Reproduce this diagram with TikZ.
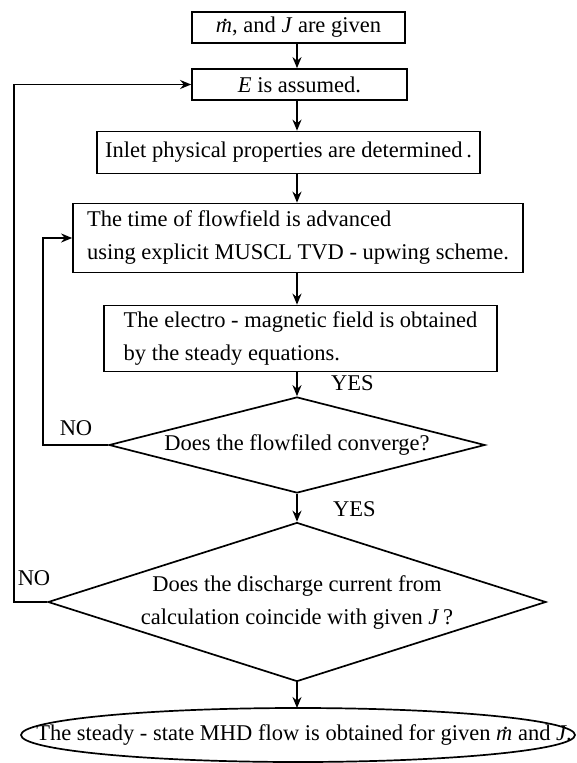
\documentclass[tikz,border=0pt]{standalone}
\usepackage{fontspec}
\setmainfont{Liberation Serif}
\usetikzlibrary{shapes.geometric,arrows.meta}
\newcommand{\mdotx}{{\ooalign{\textit{m}\cr\hidewidth\kern0.12em\raisebox{0.5em}{.}\hidewidth\cr}}}
\tikzset{
  box/.style={draw, line width=1.7pt, inner sep=0pt, align=center},
  dia/.style={draw, diamond, line width=1.7pt, inner sep=0pt, align=center},
  arr/.style={line width=1.7pt, -{Stealth[length=11pt,width=9pt]}},
  plain/.style={line width=1.7pt},
  lbl/.style={inner sep=0pt}
}
\begin{document}
\begin{tikzpicture}[x=1pt,y=-1pt,font=\fontsize{22.5}{33}\selectfont]
\useasboundingbox (0,0) rectangle (576,763);
\coordinate (ax) at (297,0);
\coordinate (lo) at (14,0);
\coordinate (li) at (43,0);

\node[box, minimum width=213pt, minimum height=31pt] (b1) at (298.5,27.5) {\mdotx, and \textit{J} are given};
\node[box, minimum width=215pt, minimum height=31pt] (b2) at (299.5,84.5) {\textit{E} is assumed.};
\node[box, minimum width=383pt, minimum height=42pt] (b3) at (288.5,152.5) {Inlet physical properties are determined\,.};
\node[box, align=left, minimum width=450pt, minimum height=69pt] (b4) at (298,238) {The time of flowfield is advanced\\using explicit MUSCL TVD - upwing scheme.};
\node[box, align=left, minimum width=393pt, minimum height=66pt] (b5) at (300.5,338.5) {The electro - magnetic field is obtained\\by the steady equations.};
\node[dia, aspect=3.9, minimum width=376pt, minimum height=96pt] (d1) at (297,445) {Does the flowfiled converge?};
\node[dia, aspect=3.13, minimum width=498pt, minimum height=159pt] (d2) at (297,602) {Does the discharge current from\\calculation coincide with given \textit{J}\,?};
\coordinate (ellc) at (298,735);
\coordinate (elltop) at (298,708);
\node[lbl] (ell) at (304,735) {The steady - state MHD flow is obtained for given \mdotx{} and \textit{J}.};
\draw[plain] (ellc) ellipse [x radius=277pt, y radius=27pt];

\node[lbl, anchor=west] (y1) at (331,383) {YES};
\node[lbl, anchor=west] (y2) at (333,509) {YES};
\node[lbl] (n1) at (76,428) {NO};
\node[lbl] (n2) at (34,578) {NO};

\draw[arr] (b1.south -| ax) -- (b2.north -| ax);
\draw[arr] (b2.south -| ax) -- (b3.north -| ax);
\draw[arr] (b3.south -| ax) -- (b4.north -| ax);
\draw[arr] (b4.south -| ax) -- (b5.north -| ax);
\draw[arr] (b5.south -| ax) -- (d1.north);
\draw[arr] (d1.south) -- (d2.north);
\draw[arr] (d2.south) -- (elltop -| d2.south);

\draw[arr] (d2.west) -- (d2.west -| lo) -- (lo |- b2.west) -- (b2.west);
\draw[arr] (d1.west) -- (d1.west -| li) -- (li |- b4.west) -- (b4.west);
\end{tikzpicture}
\end{document}
